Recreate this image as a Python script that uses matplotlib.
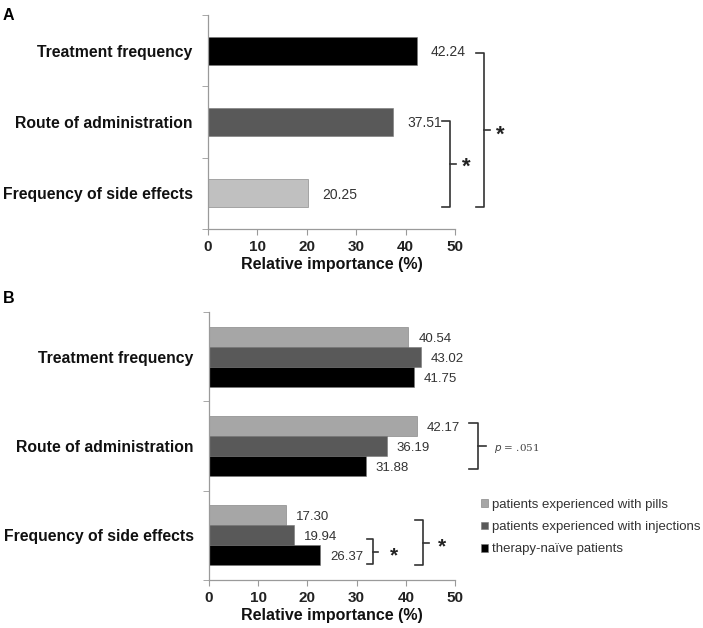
import matplotlib
matplotlib.use("Agg")
import matplotlib.pyplot as plt
import numpy as np

plt.rcParams["font.family"] = ["Liberation Sans", "DejaVu Sans"]

attributes = ["Frequency of side effects", "Route of administration", "Treatment frequency"]

# panel A (bottom to top)
imp_a = [20.25, 37.51, 42.24]
lab_a = ["20.25", "37.51", "42.24"]
col_a = ["#c0c0c0", "#595959", "#000000"]

# panel B (bottom to top); side-effect bars drawn shorter than their printed labels
pills = [15.6, 42.17, 40.54]
injections = [17.3, 36.19, 43.02]
naive = [22.6, 31.88, 41.75]
pills_lab = ["17.30", "42.17", "40.54"]
inj_lab = ["19.94", "36.19", "43.02"]
naive_lab = ["26.37", "31.88", "41.75"]
groups = ["patients experienced with pills", "patients experienced with injections",
          "therapy-naïve patients"]
col_b = ["#a6a6a6", "#595959", "#000000"]

xticks = [0, 10, 20, 30, 40, 50]
txt = "#333333"
spine = "#9a9a9a"


def style_axis(ax):
    ax.set_xlim(0, 50)
    ax.set_ylim(-0.5, 2.5)
    for s in ["top", "right"]:
        ax.spines[s].set_visible(False)
    for s in ["left", "bottom"]:
        ax.spines[s].set_color(spine)
        ax.spines[s].set_linewidth(0.9)
    ax.set_xticks(xticks)
    ax.set_xticklabels([str(t) for t in xticks], fontweight="bold", fontsize=11, color="#222222")
    ax.tick_params(axis="x", length=4, color=spine, pad=4)
    ax.set_yticks(range(3))
    ax.set_yticklabels(attributes, fontweight="bold", fontsize=11.3, color="#111111")
    ax.tick_params(axis="y", length=0, pad=11)
    ax.set_yticks([-0.5, 0.5, 1.5, 2.5], minor=True)
    ax.tick_params(axis="y", which="minor", length=4, color=spine)
    ax.set_xlabel("Relative importance (%)", fontweight="bold", fontsize=11.5,
                  color="#111111", labelpad=2)


def bracket(ax, x, y_top, y_bot, w=1.4, tick=1.2):
    ym = (y_top + y_bot) / 2
    ax.plot([x - w, x, x, x - w], [y_top, y_top, y_bot, y_bot], color="#333333",
            lw=1.2, clip_on=False, solid_joinstyle="round")
    ax.plot([x, x + tick], [ym, ym], color="#333333", lw=1.2, clip_on=False)
    return ym


fig = plt.figure(figsize=(7.03, 6.28), dpi=100)

# ---- panel A
ax1 = fig.add_axes([0.2959, 0.6354, 0.3514, 0.3408])
ypos = np.arange(3)
ax1.barh(ypos, imp_a, height=0.39, color=col_a, edgecolor="#777777", linewidth=0.4)
for y, v, l in zip(ypos, imp_a, lab_a):
    ax1.annotate(l, (v, y), xytext=(10, -1), textcoords="offset points",
                 va="center", ha="left", fontsize=10, color=txt)
style_axis(ax1)
bracket(ax1, 49.0, 1.01, -0.19, w=1.7)
ax1.text(52.3, 0.36, "*", fontsize=16, fontweight="bold", ha="center", va="center", color="#222222")
bracket(ax1, 55.9, 1.97, -0.19, w=1.6)
ax1.text(59.1, 0.82, "*", fontsize=16, fontweight="bold", ha="center", va="center", color="#222222")
fig.text(0.004, 0.988, "A", fontweight="bold", fontsize=11.5, va="top", ha="left")

# ---- panel B
ax2 = fig.add_axes([0.2973, 0.0764, 0.35, 0.4268])
h = 0.224
series = [(pills, pills_lab, h), (injections, inj_lab, 0.0), (naive, naive_lab, -h)]
for (vals, labs, off), c, g in zip(series, col_b, groups):
    ax2.barh(ypos + off, vals, height=h, color=c, edgecolor="#777777", linewidth=0.4, label=g)
    for y, v, l in zip(ypos + off, vals, labs):
        ax2.annotate(l, (v, y), xytext=(7, -1.5), textcoords="offset points",
                     va="center", ha="left", fontsize=9.5, color=txt)
style_axis(ax2)
bracket(ax2, 54.7, 1.257, 0.742, w=1.8, tick=1.6)
ax2.text(58.0, 0.975, r"$p$ = .051", fontsize=7.5, family="DejaVu Serif", ha="left",
         va="center", color="#444444")
bracket(ax2, 33.3, -0.042, -0.322, w=1.2, tick=1.0)
ax2.text(37.6, -0.235, "*", fontsize=15, fontweight="bold", ha="center", va="center", color="#222222")
bracket(ax2, 43.5, 0.171, -0.333, w=1.6, tick=1.2)
ax2.text(47.4, -0.125, "*", fontsize=15, fontweight="bold", ha="center", va="center", color="#222222")
fig.text(0.004, 0.537, "B", fontweight="bold", fontsize=11.5, va="top", ha="left")

leg = ax2.legend(loc="upper left", bbox_to_anchor=(0.676, 0.214), bbox_transform=fig.transFigure,
                 frameon=False, fontsize=9.5, handlelength=0.55, handleheight=0.55,
                 handletextpad=0.3, labelspacing=0.78, borderaxespad=0)
for t in leg.get_texts():
    t.set_color(txt)

fig.savefig("out.png", dpi=100, facecolor="white")
